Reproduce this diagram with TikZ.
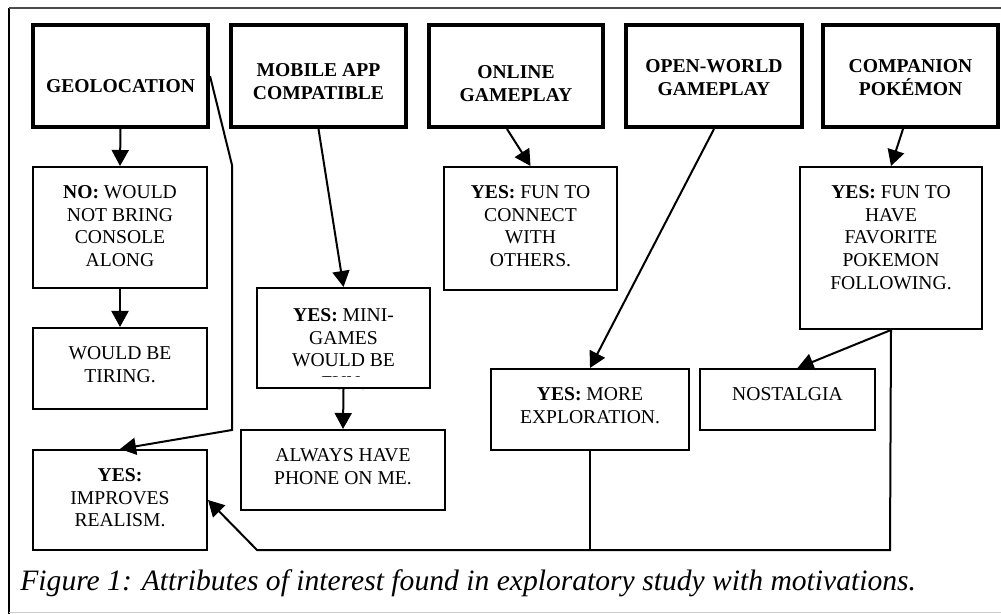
\documentclass[tikz,border=0pt]{standalone}
\usepackage{fontspec}
\setmainfont{Liberation Serif}
\usepackage{tikz}
\usetikzlibrary{arrows.meta, positioning}

\newcommand{\boxfont}{\fontsize{9.8}{11.35}\selectfont}
\newcommand{\boxtxt}[4]{\parbox[c][#2][t]{#1}{\centering\vspace*{#3}#4}}

\tikzset{
  topbox/.style={draw, line width=2pt, inner sep=0pt, font=\boxfont\bfseries},
  ansbox/.style={draw, line width=1pt, inner sep=0pt, font=\boxfont},
  link/.style={line width=1pt, -{Triangle[length=8pt,width=8.5pt]}},
}

\begin{document}
\begin{tikzpicture}[x=0.5pt,y=-0.5pt]
\useasboundingbox (0,0) rectangle (1001,614);
\draw[line width=1pt] (9,614) -- (9,8);
\draw[black!70,line width=0.8pt] (9,8) -- (1001,8);
\draw[black!20,line width=0.6pt] (9,612.5) -- (1001,612.5);

\node[topbox] (geo) at (120.5,76) {\boxtxt{87.5pt}{51pt}{27.25pt}{GEOLOCATION}};
\node[topbox] (mobile) at (318.5,76) {\boxtxt{87.5pt}{51pt}{19.25pt}{MOBILE APP\\COMPATIBLE}};
\node[topbox] (online) at (516,76) {\boxtxt{87pt}{51pt}{20.25pt}{ONLINE\\GAMEPLAY}};
\node[topbox] (openw) at (714,76) {\boxtxt{88pt}{51pt}{17.25pt}{OPEN-WORLD\\GAMEPLAY}};
\node[topbox] (comp) at (910.5,76) {\boxtxt{87.5pt}{51pt}{17.25pt}{COMPANION\\POKÉMON}};

\node[ansbox] (no) at (120,227.5) {\boxtxt{87pt}{60.5pt}{9.25pt}{\textbf{NO:} WOULD\\NOT BRING\\CONSOLE\\ALONG}};
\node[ansbox] (tiring) at (120,368.5) {\boxtxt{87pt}{40.5pt}{9.25pt}{WOULD BE\\TIRING.}};
\node[ansbox] (realism) at (120,500) {\boxtxt{87pt}{50pt}{9.25pt}{\textbf{YES:}\\IMPROVES\\REALISM.}};
\node[ansbox] (mini) at (343.5,338) {\boxtxt{86.5pt}{50pt}{10.25pt}{\textbf{YES:} MINI-\\GAMES\\WOULD BE\\FUN.}};
\fill[white] (258.5,377.5) rectangle (428.5,387);
\node[ansbox] (phone) at (343,470) {\boxtxt{102pt}{40pt}{9.25pt}{ALWAYS HAVE\\PHONE ON ME.}};
\node[ansbox] (connect) at (530.5,228.5) {\boxtxt{86.5pt}{61.5pt}{9.25pt}{\textbf{YES:} FUN TO\\CONNECT\\WITH\\OTHERS.}};
\node[ansbox] (follow) at (891,248) {\boxtxt{91pt}{81pt}{9.25pt}{\textbf{YES:} FUN TO\\HAVE\\FAVORITE\\POKEMON\\FOLLOWING.}};
\node[ansbox] (explore) at (590,409.5) {\boxtxt{99pt}{40.5pt}{9.25pt}{\textbf{YES:} MORE\\EXPLORATION.}};
\node[ansbox] (nostalgia) at (787.5,399.5) {\boxtxt{87.5pt}{30.5pt}{9.25pt}{NOSTALGIA}};

\coordinate (geoA) at (232,165);
\coordinate (geoB) at (232,430);
\coordinate (busR) at (890,550);
\coordinate (busL) at (257,550);

\draw[link] (geo.south) -- (no.north);
\draw[link] (no.south) -- (tiring.north);
\draw[link] (geo.east) -- (geoA) -- (geoB) -- (realism.north);
\draw[link] (mobile.south) -- (mini.north);
\draw[link] (mini.south) -- (phone.north);
\draw[link] ([xshift=-4.5pt]online.south) -- (connect.north);
\draw[link] (openw.south) -- (explore.north);
\draw[link] ([xshift=-3.75pt]comp.south) -- (follow.north);
\draw[link] (follow.south) -- ([xshift=5pt]nostalgia.north);
\draw[link] (follow.south) -- (busR) -- (busL) -- (realism.east);
\draw[line width=1pt] (explore.south) -- (explore.south |- busL);

\node[anchor=base west, inner sep=0pt, font=\fontsize{14.8}{17}\selectfont\itshape] (caption) at (20,590) {Figure 1: Attributes of interest found in exploratory study with motivations.};
\end{tikzpicture}
\end{document}
